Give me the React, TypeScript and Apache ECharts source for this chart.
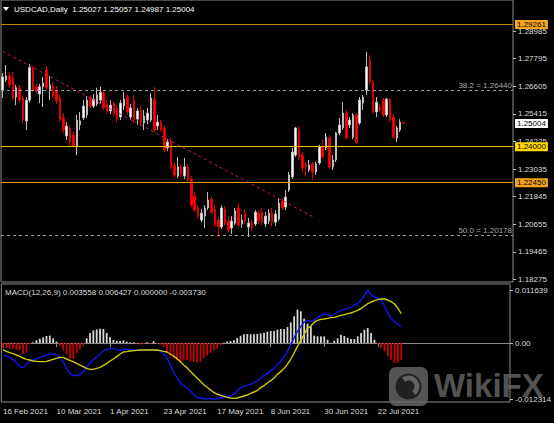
import React, { useEffect, useRef } from "react";
import * as echarts from "echarts";

const FONT = '"Liberation Sans", Arial, sans-serif';

// ---------- data ----------
const opens = [
  1.2644, 1.2688, 1.2705, 1.2697, 1.2614, 1.2654, 1.2610, 1.2511, 1.2601, 1.2740,
  1.2658, 1.2627, 1.2658, 1.2731, 1.2644, 1.2662, 1.2644, 1.2610, 1.2524, 1.2446,
  1.2481, 1.2450, 1.2399, 1.2494, 1.2524, 1.2537, 1.2610, 1.2575, 1.2584, 1.2601,
  1.2631, 1.2584, 1.2554, 1.2584, 1.2567, 1.2528, 1.2575, 1.2614, 1.2528, 1.2601,
  1.2519, 1.2558, 1.2502, 1.2515, 1.2515, 1.2605, 1.2489, 1.2506, 1.2481, 1.2395,
  1.2425, 1.2321, 1.2274, 1.2313, 1.2274, 1.2313, 1.2261, 1.2187, 1.2136, 1.2084,
  1.2101, 1.2136, 1.2174, 1.2131, 1.2084, 1.2054, 1.2131, 1.2080, 1.2050, 1.2071,
  1.2136, 1.2067, 1.2114, 1.2054, 1.2071, 1.2067, 1.2114, 1.2118, 1.2067, 1.2080,
  1.2114, 1.2075, 1.2088, 1.2166, 1.2140, 1.2213, 1.2270, 1.2364, 1.2472, 1.2364,
  1.2321, 1.2300, 1.2326, 1.2291, 1.2330, 1.2399, 1.2395, 1.2438, 1.2313, 1.2343,
  1.2459, 1.2481, 1.2545, 1.2494, 1.2442, 1.2537, 1.2502, 1.2588, 1.2644, 1.2774,
  1.2679, 1.2550, 1.2567, 1.2601, 1.2537, 1.2605, 1.2528, 1.2438, 1.2472, 1.25027,
];
const closes = [
  1.2701, 1.2705, 1.2666, 1.2610, 1.2654, 1.2601, 1.2515, 1.2601, 1.2740, 1.2644,
  1.2640, 1.2658, 1.2675, 1.2654, 1.2666, 1.2622, 1.2597, 1.2515, 1.2472, 1.2489,
  1.2420, 1.2403, 1.2515, 1.2511, 1.2575, 1.2601, 1.2575, 1.2605, 1.2622, 1.2635,
  1.2567, 1.2550, 1.2579, 1.2541, 1.2519, 1.2588, 1.2605, 1.2550, 1.2567, 1.2515,
  1.2554, 1.2506, 1.2532, 1.2545, 1.2610, 1.2472, 1.2506, 1.2472, 1.2386, 1.2420,
  1.2313, 1.2278, 1.2313, 1.2283, 1.2313, 1.2257, 1.2148, 1.2127, 1.2101, 1.2114,
  1.2136, 1.2170, 1.2118, 1.2062, 1.2054, 1.2136, 1.2071, 1.2041, 1.2080, 1.2123,
  1.2062, 1.2084, 1.2080, 1.2071, 1.2050, 1.2118, 1.2080, 1.2075, 1.2101, 1.2114,
  1.2075, 1.2110, 1.2157, 1.2136, 1.2183, 1.2278, 1.2377, 1.2481, 1.2356, 1.2308,
  1.2313, 1.2321, 1.2291, 1.2326, 1.2399, 1.2356, 1.2442, 1.2313, 1.2343, 1.2459,
  1.2494, 1.2545, 1.2438, 1.2515, 1.2537, 1.2420, 1.2601, 1.2614, 1.2744, 1.2679,
  1.2550, 1.2592, 1.2558, 1.2537, 1.2605, 1.2515, 1.2442, 1.2481, 1.2506, 1.25004,
];
const highs = [
  1.2718, 1.2752, 1.2722, 1.2722, 1.2666, 1.2666, 1.2622, 1.2614, 1.2757, 1.2748,
  1.2671, 1.2671, 1.2701, 1.2748, 1.2705, 1.2679, 1.2662, 1.2622, 1.2545, 1.2506,
  1.2494, 1.2463, 1.2537, 1.2550, 1.2601, 1.2618, 1.2622, 1.2627, 1.2654, 1.2658,
  1.2644, 1.2601, 1.2601, 1.2597, 1.2579, 1.2601, 1.2635, 1.2627, 1.2584, 1.2622,
  1.2567, 1.2575, 1.2558, 1.2567, 1.2631, 1.2658, 1.2537, 1.2515, 1.2494, 1.2433,
  1.2438, 1.2334, 1.2356, 1.2321, 1.2352, 1.2326, 1.2274, 1.2205, 1.2148, 1.2131,
  1.2148, 1.2205, 1.2187, 1.2148, 1.2097, 1.2148, 1.2144, 1.2101, 1.2101, 1.2136,
  1.2157, 1.2106, 1.2131, 1.2093, 1.2084, 1.2127, 1.2127, 1.2136, 1.2118, 1.2131,
  1.2136, 1.2127, 1.2178, 1.2178, 1.2213, 1.2291, 1.2395, 1.2485, 1.2489, 1.2377,
  1.2334, 1.2343, 1.2334, 1.2334, 1.2408, 1.2429, 1.2459, 1.2450, 1.2364, 1.2463,
  1.2524, 1.2592, 1.2558, 1.2528, 1.2545, 1.2545, 1.2614, 1.2622, 1.2809, 1.2796,
  1.2688, 1.2614, 1.2584, 1.2610, 1.2610, 1.2610, 1.2541, 1.2489, 1.2519, 1.25057,
];
const lows = [
  1.2610, 1.2679, 1.2654, 1.2601, 1.2579, 1.2588, 1.2502, 1.2472, 1.2592, 1.2635,
  1.2631, 1.2588, 1.2571, 1.2644, 1.2601, 1.2610, 1.2584, 1.2506, 1.2459, 1.2429,
  1.2403, 1.2395, 1.2364, 1.2472, 1.2515, 1.2524, 1.2567, 1.2567, 1.2575, 1.2584,
  1.2558, 1.2541, 1.2541, 1.2532, 1.2506, 1.2515, 1.2558, 1.2537, 1.2515, 1.2502,
  1.2494, 1.2489, 1.2472, 1.2498, 1.2506, 1.2463, 1.2472, 1.2463, 1.2377, 1.2382,
  1.2304, 1.2265, 1.2265, 1.2270, 1.2261, 1.2248, 1.2140, 1.2118, 1.2088, 1.2075,
  1.2050, 1.2127, 1.2110, 1.2054, 1.2011, 1.2045, 1.2062, 1.2032, 1.2024, 1.2062,
  1.2054, 1.2050, 1.2067, 1.2011, 1.2037, 1.2058, 1.2067, 1.2062, 1.2054, 1.2067,
  1.2058, 1.2058, 1.2080, 1.2127, 1.2127, 1.2205, 1.2261, 1.2356, 1.2343, 1.2291,
  1.2270, 1.2291, 1.2257, 1.2278, 1.2321, 1.2347, 1.2386, 1.2304, 1.2300, 1.2334,
  1.2450, 1.2472, 1.2429, 1.2481, 1.2433, 1.2412, 1.2494, 1.2558, 1.2622, 1.2671,
  1.2541, 1.2528, 1.2550, 1.2528, 1.2528, 1.2506, 1.2433, 1.2420, 1.2463, 1.24987,
];

const macdHist = [
  -0.00110, -0.00110, -0.00132, -0.00132, -0.00147, -0.00161, -0.00242, -0.00205, -0.00029, 0.00015,
  0.00059, 0.00095, 0.00125, 0.00154, 0.00161, 0.00103, 0.00029, -0.00059, -0.00161, -0.00256,
  -0.00344, -0.00352, -0.00234, -0.00147, -0.00059, 0.00103, 0.00220, 0.00278, 0.00300, 0.00315,
  0.00308, 0.00220, 0.00125, 0.00066, 0.00044, 0.00044, 0.00059, 0.00029, 0.00015, 0.00015,
  -0.00007, -0.00037, -0.00022, 0.00015, -0.00015, 0.00037, -0.00015, -0.00044, -0.00088, -0.00205,
  -0.00278, -0.00344, -0.00381, -0.00432, -0.00388, -0.00374, -0.00403, -0.00410, -0.00432, -0.00410,
  -0.00330, -0.00278, -0.00220, -0.00161, -0.00125, -0.00051, 0.00007, 0.00029, 0.00044, 0.00059,
  0.00110, 0.00161, 0.00190, 0.00198, 0.00190, 0.00190, 0.00198, 0.00212, 0.00227, 0.00249,
  0.00264, 0.00271, 0.00293, 0.00308, 0.00308, 0.00352, 0.00454, 0.00586, 0.00733, 0.00696,
  0.00535, 0.00425, 0.00366, 0.00161, 0.00147, 0.00147, 0.00147, 0.00073, 0.00007, 0.00051,
  0.00103, 0.00183, 0.00154, 0.00117, 0.00088, 0.00088, 0.00147, 0.00220, 0.00293, 0.00330,
  0.00220, 0.00073, -0.00022, -0.00110, -0.00183, -0.00293, -0.00366, -0.00440, -0.00440, -0.003730,
];
const macdBlue = [
  -0.00271, -0.00286, -0.00322, -0.00366, -0.00425, -0.00513, -0.00542, -0.00476, -0.00403, -0.00374,
  -0.00344, -0.00315, -0.00293, -0.00264, -0.00242, -0.00242, -0.00264, -0.00315, -0.00410, -0.00557,
  -0.00667, -0.00718, -0.00718, -0.00689, -0.00630, -0.00527, -0.00440, -0.00366, -0.00308, -0.00256,
  -0.00168, -0.00139, -0.00125, -0.00117, -0.00147, -0.00168, -0.00139, -0.00139, -0.00147, -0.00154,
  -0.00154, -0.00154, -0.00154, -0.00154, -0.00154, -0.00154, -0.00154, -0.00183, -0.00242, -0.00322,
  -0.00491, -0.00637, -0.00769, -0.00872, -0.00938, -0.00989, -0.01055, -0.01136, -0.01194, -0.01210,
  -0.01225, -0.01228, -0.01222, -0.01228, -0.01231, -0.01209, -0.01190, -0.01175, -0.01160, -0.01128,
  -0.01055, -0.00989, -0.00952, -0.00938, -0.00908, -0.00872, -0.00828, -0.00769, -0.00718, -0.00667,
  -0.00608, -0.00557, -0.00469, -0.00403, -0.00308, -0.00190, -0.00029, 0.00117, 0.00256, 0.00359,
  0.00462, 0.00491, 0.00476, 0.00498, 0.00557, 0.00601, 0.00645, 0.00623, 0.00586, 0.00637,
  0.00681, 0.00718, 0.00740, 0.00755, 0.00791, 0.00835, 0.00864, 0.00938, 0.01048, 0.01164,
  0.01062, 0.01011, 0.00982, 0.00938, 0.00813, 0.00652, 0.00542, 0.00469, 0.00418, 0.003558,
];
const macdYellow = [
  -0.00147, -0.00183, -0.00212, -0.00234, -0.00264, -0.00293, -0.00330, -0.00359, -0.00374, -0.00396,
  -0.00403, -0.00410, -0.00410, -0.00403, -0.00381, -0.00359, -0.00337, -0.00315, -0.00315, -0.00352,
  -0.00381, -0.00410, -0.00447, -0.00484, -0.00520, -0.00557, -0.00579, -0.00579, -0.00557, -0.00535,
  -0.00491, -0.00447, -0.00396, -0.00352, -0.00300, -0.00242, -0.00198, -0.00190, -0.00176, -0.00168,
  -0.00161, -0.00154, -0.00154, -0.00154, -0.00154, -0.00154, -0.00154, -0.00168, -0.00183, -0.00198,
  -0.00242, -0.00286, -0.00344, -0.00410, -0.00484, -0.00542, -0.00623, -0.00696, -0.00769, -0.00843,
  -0.00916, -0.00974, -0.01033, -0.01084, -0.01121, -0.01150, -0.01172, -0.01194, -0.01209, -0.01216,
  -0.01209, -0.01187, -0.01165, -0.01143, -0.01106, -0.01077, -0.01040, -0.00982, -0.00938, -0.00879,
  -0.00828, -0.00769, -0.00689, -0.00630, -0.00557, -0.00469, -0.00352, -0.00220, -0.00073, 0.00059,
  0.00190, 0.00322, 0.00374, 0.00454, 0.00498, 0.00520, 0.00527, 0.00542, 0.00557, 0.00564,
  0.00586, 0.00608, 0.00623, 0.00645, 0.00659, 0.00689, 0.00718, 0.00762, 0.00813, 0.00864,
  0.00901, 0.00930, 0.00952, 0.00967, 0.00967, 0.00945, 0.00908, 0.00857, 0.00769, 0.006427,
];

const priceTicks = [1.18275, 1.19465, 1.20655, 1.21845, 1.23035, 1.24225, 1.25415, 1.26605, 1.27795, 1.28985];
const macdTicks = [-0.012314, 0, 0.011639];
const levels = { resistance: 1.29261, support1: 1.24, support2: 1.2245, last: 1.25004 };
const fibLevels = [
  { value: 1.2644, label: "38.2 = 1.26440" },
  { value: 1.20178, label: "50.0 = 1.20178" },
];
const trendStart = { index: 0, price: 1.28107 };
const trendEnd = { index: 92, price: 1.20989 };
const headerText = "USDCAD,Daily  1.25027 1.25057 1.24987 1.25004";
const macdText = "MACD(12,26,9) 0.003558 0.006427 0.000000 -0.003730";

const BAR_COUNT = opens.length;
const SLOT_COUNT = 152;
const MONTHS = ["Jan", "Feb", "Mar", "Apr", "May", "Jun", "Jul", "Aug", "Sep", "Oct", "Nov", "Dec"];

function weekdayLabels(start: Date, n: number): string[] {
  const out: string[] = [];
  const d = new Date(start.getTime());
  while (out.length < n) {
    const wd = d.getUTCDay();
    if (wd !== 0 && wd !== 6) {
      out.push(`${d.getUTCDate()} ${MONTHS[d.getUTCMonth()]} ${d.getUTCFullYear()}`);
    }
    d.setUTCDate(d.getUTCDate() + 1);
  }
  return out;
}
const categories = weekdayLabels(new Date(Date.UTC(2021, 1, 16)), SLOT_COUNT);

export default function App() {
  const ref = useRef<HTMLDivElement>(null);
  useEffect(() => {
    if (!ref.current) return;
    const chart = echarts.init(ref.current, undefined, { renderer: "svg" });
    const candleData = opens.map((o, i) => [o, closes[i], lows[i], highs[i]]);
    const labelInterval = (index: number) => index % 16 === 0 && index < BAR_COUNT;
    const axisText = { color: "#dcdcdc", fontSize: 8, fontFamily: FONT };
    const tag = (text: string, bg: string) => ({
      show: true,
      position: "end",
      formatter: text,
      backgroundColor: bg,
      color: "#000",
      fontSize: 8,
      fontFamily: FONT,
      padding: [1, 2, 0, 2],
      distance: 2,
    });
    const option: any = {
      animation: false,
      backgroundColor: "#000000",
      grid: [
        { left: 1, right: 41, top: 0, height: 282, show: true, borderColor: "#8c8c8c", borderWidth: 1, backgroundColor: "transparent" },
        { left: 1, right: 41, top: 284, height: 118, show: true, borderColor: "#8c8c8c", borderWidth: 1, backgroundColor: "transparent" },
      ],
      xAxis: [
        {
          type: "category", gridIndex: 0, data: categories, boundaryGap: true,
          axisLine: { show: false }, axisTick: { show: false }, axisLabel: { show: false }, splitLine: { show: false },
        },
        {
          type: "category", gridIndex: 1, data: categories, boundaryGap: true,
          axisLine: { show: true, lineStyle: { color: "#8c8c8c" } },
          axisTick: { show: true, alignWithLabel: true, interval: labelInterval, length: 4, lineStyle: { color: "#8c8c8c" } },
          axisLabel: { show: true, interval: labelInterval, align: "left", margin: 5, ...axisText, formatter: (v: string, i: number) => (i < BAR_COUNT ? v : "") },
          splitLine: { show: false },
        },
      ],
      yAxis: [
        {
          type: "value", gridIndex: 0, position: "right", min: 1.18171, max: 1.30321,
          axisLine: { show: false },
          axisTick: { show: true, length: 3, customValues: priceTicks, lineStyle: { color: "#bdbdbd" } },
          axisLabel: { show: true, customValues: priceTicks, margin: 5, ...axisText, formatter: (v: number) => v.toFixed(5) },
          splitLine: { show: false },
        },
        {
          type: "value", gridIndex: 1, position: "right", min: -0.012967, max: 0.012967,
          axisLine: { show: false },
          axisTick: { show: true, length: 3, customValues: macdTicks, lineStyle: { color: "#bdbdbd" } },
          axisLabel: { show: true, customValues: macdTicks, margin: 5, ...axisText, formatter: (v: number) => (v === 0 ? "0.00" : v.toFixed(6)) },
          splitLine: { show: false },
        },
      ],
      series: [
        {
          type: "candlestick", xAxisIndex: 0, yAxisIndex: 0, data: candleData, barWidth: 2,
          itemStyle: { color: "#ffffff", color0: "#ff0000", borderColor: "#bdbdbd", borderColor0: "#e00000", borderWidth: 1 },
          markLine: {
            silent: true, symbol: ["none", "none"], animation: false, precision: 5,
            data: [
              { yAxis: levels.resistance, lineStyle: { color: "#c8870e", type: "solid", width: 1 }, label: tag("1.29261", "#f5a51e") },
              { yAxis: levels.support1, lineStyle: { color: "#e3c000", type: "solid", width: 1 }, label: tag("1.24000", "#ffd800") },
              { yAxis: levels.support2, lineStyle: { color: "#e89a0a", type: "solid", width: 1 }, label: tag("1.22450", "#f6a31c") },
              { yAxis: levels.last, lineStyle: { color: "rgba(0,0,0,0)", width: 0 }, label: tag("1.25004", "#ffffff") },
              ...fibLevels.map((f) => ({
                yAxis: f.value,
                lineStyle: { color: "#9a9a9a", type: [3, 3], width: 1 },
                label: { show: true, position: "insideEndTop", formatter: f.label, color: "#a8a8a8", fontSize: 8, fontFamily: FONT, distance: 1 },
              })),
              [
                { coord: [trendStart.index, trendStart.price], lineStyle: { color: "#c8187a", type: [3, 3], width: 1 }, label: { show: false } },
                { coord: [trendEnd.index, trendEnd.price] },
              ],
            ],
          },
        },
        {
          type: "bar", xAxisIndex: 1, yAxisIndex: 1, data: macdHist, barWidth: 1.8,
          itemStyle: { color: (p: any) => (p.value >= 0 ? "#d6d6d6" : "#cc0000") },
        },
        {
          type: "line", xAxisIndex: 1, yAxisIndex: 1, data: macdBlue, showSymbol: false, symbol: "none",
          lineStyle: { color: "#1414f0", width: 1.4 },
        },
        {
          type: "line", xAxisIndex: 1, yAxisIndex: 1, data: macdYellow, showSymbol: false, symbol: "none",
          lineStyle: { color: "#cfcc00", width: 1.4 },
        },
      ],
      graphic: [
        { type: "polygon", shape: { points: [[3, 7], [9, 7], [6, 11]] }, style: { fill: "#ffffff" } },
        { type: "text", x: 14, y: 9, style: { text: headerText, fill: "#ffffff", fontSize: 8, fontFamily: FONT, verticalAlign: "middle" } },
        { type: "text", x: 5, y: 292, style: { text: macdText, fill: "#dcdcdc", fontSize: 8, fontFamily: FONT, verticalAlign: "middle" } },
        {
          type: "group", z: 100,
          children: [
            { type: "rect", shape: { x: 389, y: 367, width: 39, height: 39, r: 7 }, style: { fill: "rgba(105,105,105,0.8)" } },
            { type: "circle", shape: { cx: 408.5, cy: 386.5, r: 13 }, style: { fill: "rgba(25,25,25,0.85)" } },
            { type: "sector", shape: { cx: 408.5, cy: 386.5, r: 11, r0: 6, startAngle: -2.2, endAngle: 0.9 }, style: { fill: "rgba(105,105,105,0.9)" } },
            { type: "text", x: 434, y: 385, style: { text: "WikiFX", fill: "rgba(105,105,105,0.8)", fontSize: 33, fontWeight: "bold", fontFamily: FONT, verticalAlign: "middle" } },
          ],
        },
      ],
    };
    chart.setOption(option);
    return () => chart.dispose();
  }, []);
  return <div ref={ref} style={{ position: "fixed", left: 0, top: 0, width: 554, height: 423 }} />;
}
